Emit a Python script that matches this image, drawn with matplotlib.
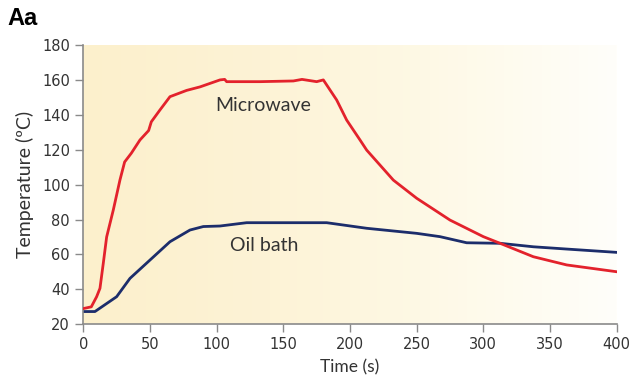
import numpy as np
import matplotlib
matplotlib.use("Agg")
import matplotlib.pyplot as plt
from matplotlib.colors import LinearSegmentedColormap

# data
mw_t = [0, 6, 10, 12.5, 15, 17.5, 22.5, 27.5, 31, 36, 42.5, 49, 51, 57.5, 65, 77.5, 87.5, 95, 102.5, 106,
        107.5, 132.5, 157.5, 164, 175, 180, 190, 197.5, 207.5, 212.5, 232.5, 250, 275, 300, 312.5, 337.5,
        362.5, 400]
mw_temp = [29, 30, 35.8, 40.6, 55, 70, 85.5, 102.7, 113, 118, 125.6, 131, 136, 142.8, 150.4, 154, 156, 158,
           160, 160.3, 159, 159, 159.4, 160.3, 159, 160, 148.5, 137, 125.6, 119.8, 102.6, 92.2, 79.7, 70.2,
           66.4, 58.7, 54, 50.1]

oil_t = [0, 8.75, 25, 35, 50, 65, 80, 90, 102.5, 122.5, 182.5, 212.5, 250, 267.5, 287.5, 312.5, 337.5,
         362.5, 400]
oil_temp = [27.3, 27.3, 35.8, 46.3, 56.8, 67.3, 74, 76, 76.3, 78.2, 78.2, 75, 72.1, 70.2, 66.7, 66.4,
            64.4, 63.1, 61.2]

xticks = [0, 50, 100, 150, 200, 250, 300, 350, 400]
yticks = [20, 40, 60, 80, 100, 120, 140, 160, 180]

plt.rcParams['font.family'] = ['DejaVu Sans']

fig = plt.figure(figsize=(6.32, 3.85), dpi=100)
ax = fig.add_axes([0.1318, 0.1577, 0.8440, 0.7254])

# pale yellow fading to white
cmap = LinearSegmentedColormap.from_list("bg", [(0, "#fcf0cc"), (0.35, "#fdf3d6"), (0.65, "#fef9e6"),
                                                (1, "#fffefa")])
grad = np.linspace(0, 1, 256).reshape(1, -1)
ax.imshow(grad, cmap=cmap, aspect="auto", extent=[0, 1, 0, 1], transform=ax.transAxes, zorder=0)

ax.plot(mw_t, mw_temp, color="#e3222c", lw=2, zorder=3)
ax.plot(oil_t, oil_temp, color="#1c2d6b", lw=2, zorder=2)

ax.text(135, 145.5, "Microwave", ha="center", va="center", fontsize=14, color="#333333",
        family=['Lato', 'DejaVu Sans'])
ax.text(136, 65.4, "Oil bath", ha="center", va="center", fontsize=14, color="#333333",
        family=['Lato', 'DejaVu Sans'])

ax.set_xlim(0, 400)
ax.set_ylim(20, 180)
ax.set_xticks(xticks)
ax.set_yticks(yticks)
for s in ["top", "right"]:
    ax.spines[s].set_visible(False)
for s in ["left", "bottom"]:
    ax.spines[s].set_color("#8a8a8a")
    ax.spines[s].set_linewidth(1.2)
ax.tick_params(colors="#8a8a8a", labelcolor="#333333", length=6, width=1, labelsize=10.5)

ax.set_xlabel("Time (s)", fontsize=12.5, color="#333333", family=['Lato', 'DejaVu Sans'], labelpad=5)
ax.set_ylabel("Temperature (\u00baC)", fontsize=14, color="#333333", family=['Lato', 'DejaVu Sans'],
              labelpad=6)

fig.text(0.012, 0.953, "Aa", fontsize=17, fontweight="bold", ha="left", va="center",
         family=['Liberation Sans', 'DejaVu Sans'])

fig.savefig("out.png", dpi=100)
